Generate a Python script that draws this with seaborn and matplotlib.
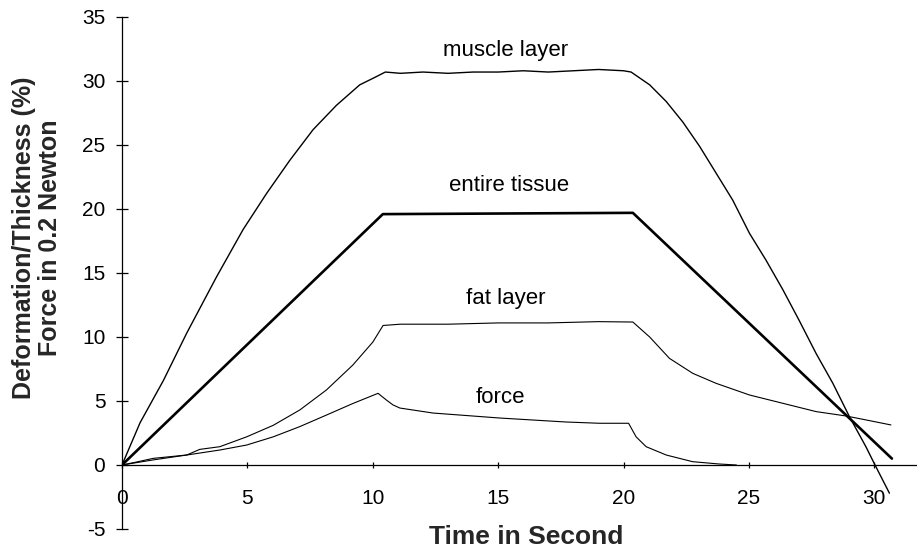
import matplotlib
matplotlib.use("Agg")
import matplotlib.pyplot as plt
import seaborn as sns
import pandas as pd

# ---- data ----
muscle_x = [0, 0.72, 1.65, 2.58, 3.77, 4.83, 5.76, 6.69, 7.62, 8.55, 9.48, 10.1, 10.5, 11.1,
            12, 13, 14, 15, 16, 17, 18, 19, 20, 20.3, 21.04, 21.7, 22.36, 23.03, 23.69,
            24.35, 25.02, 25.68, 26.35, 27.0, 27.68, 28.34, 29.0, 29.67, 30.0, 30.6]
muscle_y = [0, 3.3, 6.6, 10.3, 14.7, 18.4, 21.2, 23.8, 26.2, 28.1, 29.7, 30.3, 30.7, 30.6,
            30.7, 30.6, 30.7, 30.7, 30.8, 30.7, 30.8, 30.9, 30.8, 30.7, 29.7, 28.4, 26.8,
            24.9, 22.8, 20.7, 18.1, 16.0, 13.7, 11.3, 8.7, 6.4, 3.8, 1.4, 0.1, -2.2]

entire_x = [0, 10.4, 20.37, 30.7]
entire_y = [0, 19.6, 19.7, 0.5]

fat_x = [0, 0.5, 1.25, 2.58, 3.1, 3.9, 4.97, 6.03, 7.09, 8.15, 9.2, 10.0, 10.41, 11.1, 13,
         15, 17, 19, 20.37, 21.04, 21.83, 22.76, 23.69, 25.02, 26.35, 27.68, 28.87, 29.67, 30.66]
fat_y = [0, 0.2, 0.52, 0.78, 1.22, 1.43, 2.2, 3.1, 4.3, 5.86, 7.8, 9.6, 10.9, 11.0, 11.0,
         11.1, 11.1, 11.2, 11.17, 10.0, 8.33, 7.16, 6.38, 5.47, 4.82, 4.17, 3.83, 3.52, 3.13]

force_x = [0, 1.25, 2.58, 3.9, 4.97, 6.03, 7.09, 8.15, 9.2, 10.21, 10.54, 10.8, 11.08, 12.4,
           15.06, 17.7, 19.04, 20.2, 20.5, 20.9, 21.7, 22.75, 23.8, 24.5]
force_y = [0, 0.4, 0.78, 1.17, 1.56, 2.2, 3.0, 3.9, 4.8, 5.6, 5.08, 4.7, 4.45, 4.06,
           3.67, 3.36, 3.26, 3.26, 2.2, 1.43, 0.78, 0.26, 0.08, 0.0]

labels = ["muscle layer", "entire tissue", "fat layer", "force"]
label_x = [15.3, 15.45, 15.3, 15.1]
label_y = [32.4, 21.8, 13.0, 5.3]

x_ticks = [0, 5, 10, 15, 20, 25, 30]
y_ticks = [-5, 0, 5, 10, 15, 20, 25, 30, 35]

# ---- plotting ----
sns.set_style("ticks")
plt.rcParams["font.family"] = ["Liberation Sans", "DejaVu Sans"]
plt.rcParams["axes.unicode_minus"] = False

fig = plt.figure(figsize=(9.17, 5.48), dpi=100)
ax = fig.add_axes([122 / 917, 1 - 529 / 548, 1 - 122 / 917, (529 - 17) / 548])

series = [(muscle_x, muscle_y, 1.0), (entire_x, entire_y, 1.9),
          (fat_x, fat_y, 0.8), (force_x, force_y, 0.8)]
for (xs, ys, lw) in series:
    df = pd.DataFrame({"t": xs, "v": ys})
    sns.lineplot(data=df, x="t", y="v", ax=ax, color="black", linewidth=lw,
                 sort=False, estimator=None)

for txt, tx, ty in zip(labels, label_x, label_y):
    ax.text(tx, ty, txt, ha="center", va="center", fontsize=16, color="black")

ax.set_xlim(0, 31.7)
ax.set_ylim(-5, 35)
ax.set_xticks(x_ticks)
ax.set_yticks(y_ticks)
ax.set_xlabel("")
ax.set_ylabel("")

ax.spines["top"].set_visible(False)
ax.spines["right"].set_visible(False)
ax.spines["bottom"].set_position(("data", 0))
for s in ("left", "bottom"):
    ax.spines[s].set_color("black")
    ax.spines[s].set_linewidth(0.9)

ax.tick_params(axis="y", direction="inout", length=8, width=0.9, pad=8,
               labelsize=15, colors="black")
ax.tick_params(axis="x", direction="inout", length=5, width=0.9, pad=15,
               labelsize=15, colors="black")

fig.text(526 / 917, 1 - 537 / 548, "Time in Second", ha="center", va="center",
         fontsize=19, fontweight="bold")
fig.text(37 / 917, 1 - 238 / 548, "Deformation/Thickness (%)\nForce in 0.2 Newton",
         ha="center", va="center", rotation=90, fontsize=18, fontweight="bold",
         multialignment="center", linespacing=1.12)

fig.savefig("out.png", dpi=100)
